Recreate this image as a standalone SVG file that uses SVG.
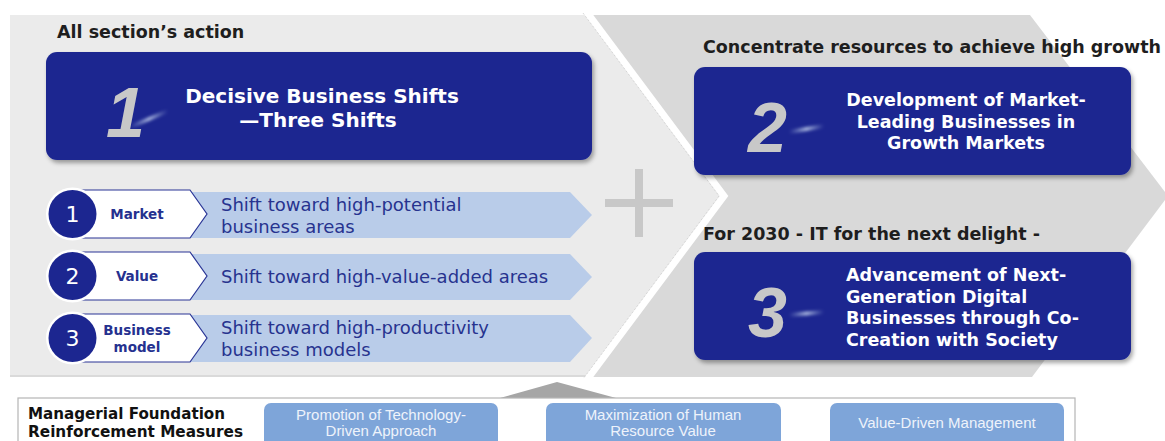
<svg xmlns="http://www.w3.org/2000/svg" width="1165" height="441" viewBox="0 0 1165 441">
<defs>
<style>
.hdr{font-family:"DejaVu Sans",Verdana,sans-serif;font-weight:bold;font-size:17.5px;fill:#1e1e1e}
.navy{fill:#1c2690}
.ttl{font-family:"DejaVu Sans",Verdana,sans-serif;font-weight:bold;fill:#ffffff}
.big{font-family:"Liberation Sans",Arial,sans-serif;font-style:italic;font-weight:bold;font-size:70px;fill:#c8c8c8}
.band{fill:#b9cce9}
.tag{fill:#ffffff;stroke:#2a3596;stroke-width:1.2}
.tagt{font-family:"DejaVu Sans",Verdana,sans-serif;font-weight:bold;font-size:13.5px;fill:#25318f;text-anchor:middle}
.num{font-family:"DejaVu Sans",Verdana,sans-serif;font-size:22px;fill:#ffffff;text-anchor:middle}
.row{font-family:"DejaVu Sans",Verdana,sans-serif;font-size:18px;fill:#27338f}
.fb{fill:#7ea5d9}
.fbt{font-family:"Liberation Sans",Arial,sans-serif;font-size:15px;fill:#eef3fb;text-anchor:middle}
.mf{font-family:"DejaVu Sans",Verdana,sans-serif;font-weight:bold;font-size:15px;fill:#111111}
</style>
<filter id="sh" x="-5%" y="-10%" width="115%" height="130%">
<feDropShadow dx="2" dy="3" stdDeviation="2" flood-color="#000" flood-opacity="0.35"/>
</filter>
<filter id="bl" x="-20%" y="-200%" width="140%" height="500%">
<feGaussianBlur stdDeviation="1.5"/>
</filter>
<linearGradient id="st" x1="0" y1="0" x2="1" y2="0">
<stop offset="0" stop-color="#9fb0d8" stop-opacity="0"/>
<stop offset="0.5" stop-color="#b7c4e6" stop-opacity="0.9"/>
<stop offset="1" stop-color="#9fb0d8" stop-opacity="0"/>
</linearGradient>
</defs>

<g id="background">
<polygon points="560,15 1030,15 1168,196 1032,377 560,377" fill="#d9d9d9"/>
<polygon points="10,15 586,15 722,196 586,377 10,377" fill="#ebebeb"/>
<line x1="10" y1="376" x2="586" y2="376" stroke="#d4d4d4" stroke-width="1.5"/>
<polyline points="586,11 724,196 586,381" fill="none" stroke="#ffffff" stroke-width="7"/>
<polyline points="583,13 719,196 583,379" fill="none" stroke="#cfcfcf" stroke-width="0.8" stroke-dasharray="2 2"/>
</g>

<g id="connectors">
<polygon points="500,398 557,382 616,398" fill="#a6a6a6"/>
</g>

<g id="plus">
<rect x="605" y="199" width="68" height="8" fill="#c8c8c8"/>
<rect x="635" y="169" width="8" height="68" fill="#c8c8c8"/>
</g>

<g id="node-1">
<text class="hdr" x="57" y="38">All section’s action</text>
<rect x="46" y="52" width="546" height="108" rx="11" class="navy" filter="url(#sh)"/>
<path d="M130,127 L168,111" stroke="url(#st)" stroke-width="4" filter="url(#bl)"/>
<text class="big" x="106" y="137">1</text>
<text class="ttl" font-size="20" x="322" y="103" text-anchor="middle">Decisive Business Shifts</text>
<text class="ttl" font-size="20" x="318" y="127" text-anchor="middle">—Three Shifts</text>
</g>

<g id="shift-1">
<polygon class="band" points="180,192 570,192 592,215 570,238 180,238"/>
<polygon class="tag" points="80,190 190,190 207,214 190,238 80,238"/>
<circle cx="72.5" cy="214" r="26.5" fill="#ffffff"/>
<circle cx="72.5" cy="214" r="24" class="navy"/>
<text class="num" x="72.5" y="222">1</text>
<text class="tagt" x="137" y="219">Market</text>
<text class="row" x="221" y="211">Shift toward high-potential</text>
<text class="row" x="221" y="233">business areas</text>
</g>

<g id="shift-2">
<polygon class="band" points="180,254 570,254 592,277 570,300 180,300"/>
<polygon class="tag" points="80,252 190,252 207,276 190,300 80,300"/>
<circle cx="72.5" cy="276" r="26.5" fill="#ffffff"/>
<circle cx="72.5" cy="276" r="24" class="navy"/>
<text class="num" x="72.5" y="284">2</text>
<text class="tagt" x="137" y="281">Value</text>
<text class="row" x="221" y="283">Shift toward high-value-added areas</text>
</g>

<g id="shift-3">
<polygon class="band" points="180,315 570,315 592,338 570,362 180,362"/>
<polygon class="tag" points="80,314 190,314 207,338 190,362 80,362"/>
<circle cx="72.5" cy="338" r="26.5" fill="#ffffff"/>
<circle cx="72.5" cy="338" r="24" class="navy"/>
<text class="num" x="72.5" y="346">3</text>
<text class="tagt" x="137" y="335">Business</text>
<text class="tagt" x="137" y="352">model</text>
<text class="row" x="221" y="334">Shift toward high-productivity</text>
<text class="row" x="221" y="356">business models</text>
</g>

<g id="node-2">
<text class="hdr" x="703" y="53">Concentrate resources to achieve high growth</text>
<rect x="694" y="67" width="437" height="108" rx="11" class="navy" filter="url(#sh)"/>
<path d="M789,132 L824,126" stroke="url(#st)" stroke-width="4" filter="url(#bl)"/>
<text class="big" x="748" y="152">2</text>
<text class="ttl" font-size="17.5" x="966" y="106" text-anchor="middle">Development of Market-</text>
<text class="ttl" font-size="17.5" x="966" y="128" text-anchor="middle">Leading Businesses in</text>
<text class="ttl" font-size="17.5" x="966" y="149" text-anchor="middle">Growth Markets</text>
</g>

<g id="node-3">
<text class="hdr" x="703" y="240">For 2030 - IT for the next delight -</text>
<rect x="694" y="252" width="437" height="108" rx="11" class="navy" filter="url(#sh)"/>
<path d="M789,315 L824,312" stroke="url(#st)" stroke-width="4" filter="url(#bl)"/>
<text class="big" x="748" y="337">3</text>
<text class="ttl" font-size="17.5" x="846" y="281">Advancement of Next-</text>
<text class="ttl" font-size="17.5" x="846" y="302.5">Generation Digital</text>
<text class="ttl" font-size="17.5" x="846" y="324">Businesses through Co-</text>
<text class="ttl" font-size="17.5" x="846" y="345.5">Creation with Society</text>
</g>

<g id="foundation">
<rect x="18" y="398" width="1057" height="60" fill="#ffffff" stroke="#b5b5b5" stroke-width="1.2"/>
<text class="mf" x="28" y="419" textLength="197" lengthAdjust="spacingAndGlyphs">Managerial Foundation</text>
<text class="mf" x="28" y="437" textLength="215" lengthAdjust="spacingAndGlyphs">Reinforcement Measures</text>
</g>

<g id="measure-1">
<rect x="264" y="403" width="234" height="50" rx="7" class="fb"/>
<text class="fbt" x="381" y="420">Promotion of Technology-</text>
<text class="fbt" x="381" y="436">Driven Approach</text>
</g>
<g id="measure-2">
<rect x="546" y="403" width="235" height="50" rx="7" class="fb"/>
<text class="fbt" x="663" y="420">Maximization of Human</text>
<text class="fbt" x="663" y="436">Resource Value</text>
</g>
<g id="measure-3">
<rect x="830" y="403" width="234" height="50" rx="7" class="fb"/>
<text class="fbt" x="947" y="428">Value-Driven Management</text>
</g>
</svg>
